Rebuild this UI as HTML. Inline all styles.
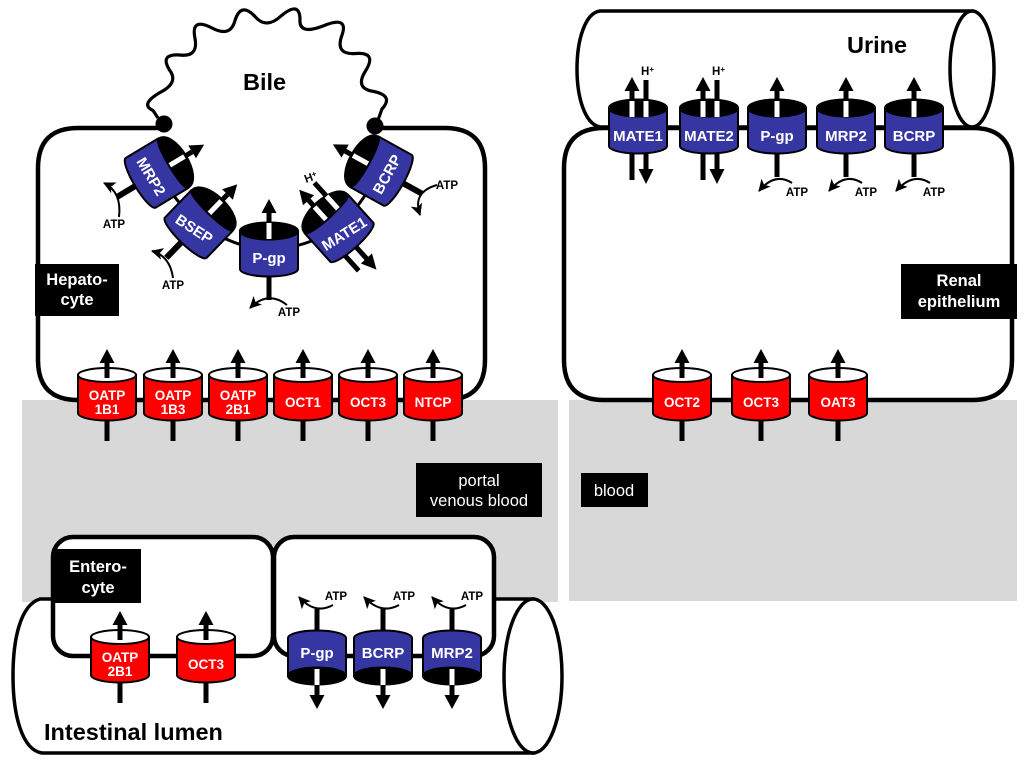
<!DOCTYPE html>
<html>
<head>
<meta charset="utf-8">
<style>
html,body{margin:0;padding:0;background:#fff}
svg{display:block}
text{font-family:"Liberation Sans",sans-serif}
.w{fill:#fff;font-weight:bold;text-anchor:middle}
.s15{font-size:15px}
.s13{font-size:13.5px}
.a{font-size:11.5px;font-weight:bold;fill:#000;text-anchor:middle}
.b{font-size:23.5px;font-weight:bold;fill:#000}
.l{fill:#fff;font-size:16.5px;text-anchor:middle}
.lb{font-weight:bold}
.c{fill:none;stroke:#000;stroke-width:2;marker-end:url(#m)}
</style>
</head>
<body>
<svg width="1024" height="764" viewBox="0 0 1024 764" xmlns="http://www.w3.org/2000/svg">
<defs>
<marker id="m" markerUnits="userSpaceOnUse" markerWidth="14" markerHeight="14" refX="11" refY="6" orient="auto"><path d="M0 0L12 6L0 12L3 6Z" fill="#000"/></marker>
<g id="cr"><path d="M-29 -19V19A29 7.5 0 0 0 29 19V-19Z" fill="#ff0000" stroke="#000" stroke-width="2"/><ellipse cx="0" cy="-19" rx="29" ry="7" fill="#fff" stroke="#000" stroke-width="2"/></g>
<g id="cb"><path d="M-29 -19V19A29 7.5 0 0 0 29 19V-19Z" fill="#3636a3" stroke="#000" stroke-width="2"/><ellipse cx="0" cy="-19" rx="29" ry="8.5" fill="#000" stroke="#000" stroke-width="2"/></g>
<g id="cb2"><path d="M-29 -19V19A29 6.5 0 0 0 29 19V-19Z" fill="#3636a3" stroke="#000" stroke-width="2" stroke-linejoin="round"/><path d="M-29 -19C-29 -39 29 -39 29 -19C29 -12 -29 -12 -29 -19Z" fill="#000" stroke="#000" stroke-width="1.5"/></g>
<g id="ur"><polygon points="0,-45 7.5,-31 -7.5,-31" fill="#000"/><rect x="-2.5" y="-31" width="5" height="6" fill="#000"/><rect x="-2.5" y="26" width="5" height="21" fill="#000"/></g>
<rect id="us" x="-2.5" y="-27" width="5" height="11" fill="#000"/>
<g id="ub"><polygon points="0,-50 7.5,-36 -7.5,-36" fill="#000"/><rect x="-2.5" y="-36" width="5" height="10" fill="#000"/><rect x="-2.5" y="-26" width="5" height="16" fill="#fff"/></g>
<g id="ub2"><polygon points="0,-55 7.5,-41 -7.5,-41" fill="#000"/><rect x="-2.5" y="-41" width="5" height="9" fill="#000"/><rect x="-2.5" y="-32" width="5" height="17" fill="#fff"/></g>
<g id="bar"><rect x="-2.5" y="-47" width="5" height="21" fill="#000"/><rect x="-2.5" y="-26" width="5" height="16" fill="#fff"/></g>
<g id="bar2"><rect x="-2.5" y="-50" width="5" height="18" fill="#000"/><rect x="-2.5" y="-32" width="5" height="17" fill="#fff"/></g>
<rect id="stem" x="-2.5" y="26" width="5" height="24" fill="#000"/>
<rect id="stem2" x="-3" y="24" width="6" height="23" fill="#000"/>
</defs>

<rect x="22" y="400" width="536" height="202" fill="#d8d8d8"/>
<rect x="569" y="400" width="448" height="201" fill="#d8d8d8"/>

<!-- urine tube -->
<path d="M972 11H600C585 13 577 40 577 69C577 98 585 124 600 127H972Z" fill="#fff" stroke="#000" stroke-width="3.5"/>
<ellipse cx="972" cy="69" rx="22" ry="58" fill="#fff" stroke="#000" stroke-width="3.5"/>
<!-- renal cell -->
<path d="M604 128H973Q1012 128 1012 168V360Q1012 400 972 400H604Q564 400 564 360V168Q564 128 604 128Z" fill="#fff" stroke="#000" stroke-width="4.5"/>

<!-- bile -->
<path d="M158 118L153 110.5Q139.5 104.5 160 92.5Q179.25 82.75 169.5 70Q159.25 53.5 180 55Q198.5 57.25 195 38.5Q190.5 16.75 212 28Q230.5 37.75 235 20.5Q241 1.5 255 16.5Q266 29.75 281 16Q299.5 0.5 300 19Q298.5 35.5 323 26Q349.75 14.75 341.5 36.5Q335.5 55 355.5 53.5Q377.5 51.75 365.5 71Q354.25 88.75 374 91.5Q394 95.75 382 109L378 120" fill="none" stroke="#000" stroke-width="3.2"/>
<!-- hepatocyte -->
<path d="M162 128H78Q38 128 38 168V360Q38 400 78 400H445Q485 400 485 360V168Q485 128 445 128H375" fill="#fff" stroke="#000" stroke-width="4.5"/>
<path d="M157 173Q175 200 199 224Q235 248 269 250Q305 248 339 228Q365 200 380 170" fill="none" stroke="#000" stroke-width="3"/>
<circle cx="164" cy="124" r="8.5" fill="#000"/>
<circle cx="375" cy="126" r="8.5" fill="#000"/>

<!-- intestinal tube -->
<path d="M533 599H40C20 605 13 640 13 676C13 715 22 750 42 753H533Z" fill="#fff" stroke="#000" stroke-width="3.5"/>
<ellipse cx="533" cy="676" rx="29" ry="77" fill="#fff" stroke="#000" stroke-width="3.5"/>
<!-- enterocyte cells -->
<rect x="53" y="537" width="220" height="119" rx="20" fill="#fff" stroke="#000" stroke-width="4.5"/>
<rect x="274" y="537" width="220" height="119" rx="20" fill="#fff" stroke="#000" stroke-width="4.5"/>

<!-- black labels -->
<rect x="35" y="264" width="84" height="52" fill="#000"/>
<text class="l lb" x="77" y="285">Hepato-</text><text class="l lb" x="77" y="305">cyte</text>
<rect x="901" y="264" width="116" height="55" fill="#000"/>
<text class="l lb" x="959" y="286">Renal</text><text class="l lb" x="959" y="307">epithelium</text>
<rect x="416" y="463" width="126" height="54" fill="#000"/>
<text class="l" x="479" y="486">portal</text><text class="l" x="479" y="506">venous blood</text>
<rect x="581" y="473" width="67" height="34" fill="#000"/>
<text class="l" x="614" y="496">blood</text>
<rect x="52" y="549" width="89" height="54" fill="#000"/>
<text class="l lb" x="98" y="572">Entero-</text><text class="l lb" x="98" y="593">cyte</text>

<text class="b" x="243" y="90">Bile</text>
<text class="b" x="847" y="53">Urine</text>
<text class="b" x="44" y="740">Intestinal lumen</text>

<!-- liver red transporters -->
<g transform="translate(107,394)"><use href="#ur"/><use href="#cr"/><use href="#us"/><text class="w s13" y="6">OATP</text><text class="w s13" y="20">1B1</text></g>
<g transform="translate(173,394)"><use href="#ur"/><use href="#cr"/><use href="#us"/><text class="w s13" y="6">OATP</text><text class="w s13" y="20">1B3</text></g>
<g transform="translate(238,394)"><use href="#ur"/><use href="#cr"/><use href="#us"/><text class="w s13" y="6">OATP</text><text class="w s13" y="20">2B1</text></g>
<g transform="translate(303,394)"><use href="#ur"/><use href="#cr"/><use href="#us"/><text class="w s13" y="13">OCT1</text></g>
<g transform="translate(368,394)"><use href="#ur"/><use href="#cr"/><use href="#us"/><text class="w s13" y="13">OCT3</text></g>
<g transform="translate(433,394)"><use href="#ur"/><use href="#cr"/><use href="#us"/><text class="w s13" y="13">NTCP</text></g>

<!-- renal red -->
<g transform="translate(682,394)"><use href="#ur"/><use href="#cr"/><use href="#us"/><text class="w s13" y="13">OCT2</text></g>
<g transform="translate(761,394)"><use href="#ur"/><use href="#cr"/><use href="#us"/><text class="w s13" y="13">OCT3</text></g>
<g transform="translate(838,394)"><use href="#ur"/><use href="#cr"/><use href="#us"/><text class="w s13" y="13">OAT3</text></g>

<!-- intestinal red -->
<g transform="translate(120,656)"><use href="#ur"/><use href="#cr"/><use href="#us"/><text class="w s13" y="6">OATP</text><text class="w s13" y="20">2B1</text></g>
<g transform="translate(206,656)"><use href="#ur"/><use href="#cr"/><use href="#us"/><text class="w s13" y="13">OCT3</text></g>

<!-- renal blue -->
<g transform="translate(638,127)"><rect x="-8.5" y="26" width="5" height="27" fill="#000"/><rect x="5.5" y="26" width="5" height="20" fill="#000"/><polygon points="8,57 15.5,42 0.5,42" fill="#000"/><use href="#cb"/><use href="#ub" x="-6"/><use href="#bar" x="8"/><text class="w s15" y="14">MATE1</text></g>
<g transform="translate(709,127)"><rect x="-8.5" y="26" width="5" height="27" fill="#000"/><rect x="5.5" y="26" width="5" height="20" fill="#000"/><polygon points="8,57 15.5,42 0.5,42" fill="#000"/><use href="#cb"/><use href="#ub" x="-6"/><use href="#bar" x="8"/><text class="w s15" y="14">MATE2</text></g>
<g transform="translate(777,127)"><use href="#stem"/><use href="#cb"/><use href="#ub"/><text class="w s15" y="14">P-gp</text></g>
<g transform="translate(846,127)"><use href="#stem"/><use href="#cb"/><use href="#ub"/><text class="w s15" y="14">MRP2</text></g>
<g transform="translate(914,127)"><use href="#stem"/><use href="#cb"/><use href="#ub"/><text class="w s15" y="14">BCRP</text></g>
<path class="c" d="M792 183Q775 172 759 191"/>
<path class="c" d="M862 183Q845 172 829 191"/>
<path class="c" d="M930 183Q913 172 896 191"/>
<text class="a" x="797" y="196">ATP</text>
<text class="a" x="866" y="196">ATP</text>
<text class="a" x="934" y="196">ATP</text>
<text x="641" y="75" font-size="11.5" font-weight="bold">H<tspan font-size="8" dy="-3">+</tspan></text>
<text x="712" y="75" font-size="11.5" font-weight="bold">H<tspan font-size="8" dy="-3">+</tspan></text>

<!-- intestinal blue -->
<g transform="translate(317,657)"><rect x="-2.5" y="-48" width="5" height="22" fill="#000"/><g transform="scale(1,-1)"><use href="#cb"/><use href="#ub" y="-2"/></g><text class="w s15" y="1">P-gp</text></g>
<g transform="translate(383,657)"><rect x="-2.5" y="-48" width="5" height="22" fill="#000"/><g transform="scale(1,-1)"><use href="#cb"/><use href="#ub" y="-2"/></g><text class="w s15" y="1">BCRP</text></g>
<g transform="translate(452,657)"><rect x="-2.5" y="-48" width="5" height="22" fill="#000"/><g transform="scale(1,-1)"><use href="#cb"/><use href="#ub" y="-2"/></g><text class="w s15" y="1">MRP2</text></g>
<path class="c" d="M333 605Q315 615 299 597"/>
<path class="c" d="M399 605Q381 615 364 597"/>
<path class="c" d="M466 605Q448 615 432 597"/>
<text class="a" x="336" y="600">ATP</text>
<text class="a" x="404" y="600">ATP</text>
<text class="a" x="472" y="600">ATP</text>

<!-- liver blue -->
<g transform="translate(269,250)"><use href="#stem"/><use href="#cb"/><use href="#ub" y="-1"/><text class="w s15" y="13">P-gp</text></g>
<g transform="translate(199,224) rotate(44)"><use href="#stem2"/><use href="#cb2"/><use href="#ub2"/><text class="w s15" y="12" transform="rotate(-11 0 7)">BSEP</text></g>
<g transform="translate(157,173) rotate(59)"><use href="#stem2"/><use href="#cb2"/><use href="#ub2"/><text class="w s15" y="12">MRP2</text></g>
<g transform="translate(381,171) rotate(-61)"><use href="#stem2"/><use href="#cb2"/><use href="#ub2"/><text class="w s15" y="12">BCRP</text></g>
<g transform="translate(339,228) rotate(-42)"><rect x="-16.5" y="24" width="5" height="21" fill="#000"/><rect x="-2.5" y="24" width="5" height="19" fill="#000"/><polygon points="0,56 7.5,41 -7.5,41" fill="#000"/><use href="#cb2"/><use href="#ub2" x="-4"/><use href="#bar2" x="12"/><text class="w s15" y="13" transform="rotate(10 0 8)">MATE1</text></g>
<path class="c" d="M287 305Q268 290 250 308"/>
<path class="c" d="M173 278Q170 256 152 251"/>
<path class="c" d="M119 217Q122 192 104 183"/>
<path class="c" d="M437 185Q412 192 420 215"/>
<text class="a" x="289" y="316">ATP</text>
<text class="a" x="173" y="289">ATP</text>
<text class="a" x="114" y="228">ATP</text>
<text class="a" x="447" y="189">ATP</text>
<text transform="translate(306,183) rotate(-20)" font-size="11.5" font-weight="bold">H<tspan font-size="8" dy="-3">+</tspan></text>
</svg>
</body>
</html>
